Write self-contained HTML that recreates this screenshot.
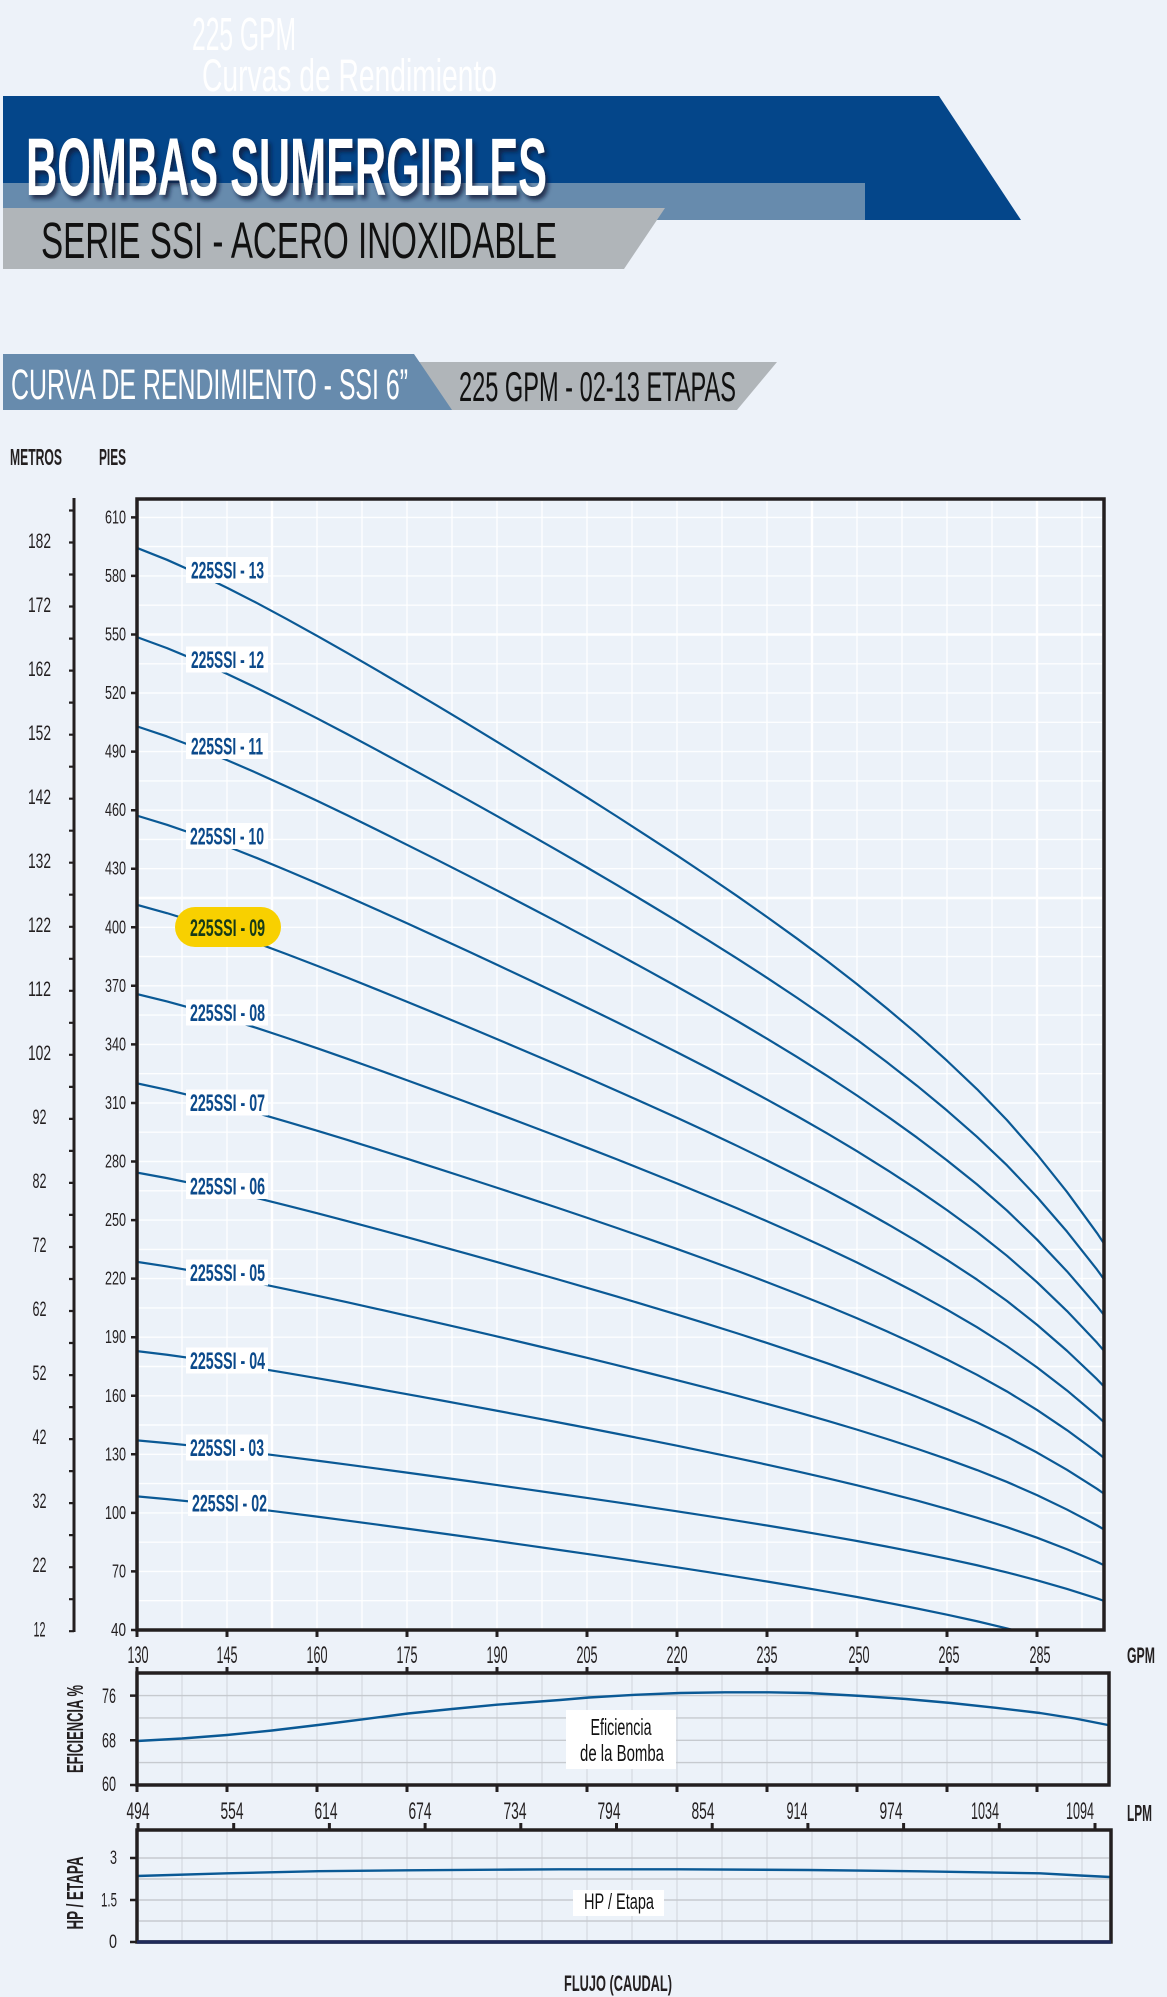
<!DOCTYPE html>
<html>
<head>
<meta charset="utf-8">
<style>
html,body{margin:0;padding:0;background:#edf2f9;}
svg{display:block;}
text{font-family:"Liberation Sans",sans-serif;}
</style>
</head>
<body>
<svg width="1167" height="1997" viewBox="0 0 1167 1997" xmlns="http://www.w3.org/2000/svg">
<defs>
<filter id="sh" x="-5%" y="-20%" width="110%" height="150%">
<feDropShadow dx="3" dy="4" stdDeviation="2" flood-color="#0d1f38" flood-opacity="0.8"/>
</filter>
<clipPath id="plot"><rect x="137" y="499" width="967" height="1131"/></clipPath>
</defs>
<rect x="0" y="0" width="1167" height="1997" fill="#edf2f9"/>

<!-- header -->
<text x="192" y="50" font-size="46" fill="#ffffff" textLength="104" lengthAdjust="spacingAndGlyphs">225 GPM</text>
<text x="202" y="91" font-size="45" fill="#ffffff" textLength="295" lengthAdjust="spacingAndGlyphs">Curvas de Rendimiento</text>

<polygon points="3,96 939,96 1021,220 3,220" fill="#04468a"/>
<rect x="3" y="183" width="862" height="37" fill="#678bad"/>
<polygon points="3,208 665,208 624,269 3,269" fill="#b0b5b9"/>
<text x="26" y="195" font-size="82" font-weight="bold" fill="#ffffff" textLength="521" lengthAdjust="spacingAndGlyphs" filter="url(#sh)">BOMBAS SUMERGIBLES</text>
<text x="41" y="258" font-size="51" fill="#111111" textLength="516" lengthAdjust="spacingAndGlyphs">SERIE SSI - ACERO INOXIDABLE</text>

<polygon points="405,362 777,362 737,410 405,410" fill="#b0b5b9"/>
<polygon points="3,354 414,354 452,410 3,410" fill="#678bad"/>
<text x="11" y="399" font-size="43" fill="#ffffff" textLength="397" lengthAdjust="spacingAndGlyphs">CURVA DE RENDIMIENTO - SSI 6”</text>
<text x="459" y="401" font-size="42" fill="#111111" textLength="277" lengthAdjust="spacingAndGlyphs">225 GPM - 02-13 ETAPAS</text>

<!-- axis titles -->
<text x="10" y="465" font-size="23" font-weight="bold" fill="#231f20" textLength="52" lengthAdjust="spacingAndGlyphs">METROS</text>
<text x="99" y="465" font-size="23" font-weight="bold" fill="#231f20" textLength="27" lengthAdjust="spacingAndGlyphs">PIES</text>

<!-- main plot background and grid -->
<rect x="137" y="499" width="967" height="1131" fill="#ecf2f9"/>
<path stroke="#ffffff" stroke-width="1.4" fill="none" opacity="0.9" d="M182,501V1629M227,501V1629M272,501V1629M317,501V1629M362,501V1629M407,501V1629M452,501V1629M497,501V1629M542,501V1629M587,501V1629M632,501V1629M677,501V1629M722,501V1629M767,501V1629M812,501V1629M857,501V1629M902,501V1629M947,501V1629M992,501V1629M1037,501V1629M1082,501V1629"/>
<path stroke="#ffffff" stroke-width="1.4" fill="none" opacity="0.9" d="M139,1600.7H1102M139,1571.4H1102M139,1542.2H1102M139,1512.9H1102M139,1483.6H1102M139,1454.3H1102M139,1425H1102M139,1395.8H1102M139,1366.5H1102M139,1337.2H1102M139,1307.9H1102M139,1278.6H1102M139,1249.4H1102M139,1220.1H1102M139,1190.8H1102M139,1161.5H1102M139,1132.2H1102M139,1103H1102M139,1073.7H1102M139,1044.4H1102M139,1015.1H1102M139,985.8H1102M139,956.6H1102M139,927.3H1102M139,898H1102M139,868.7H1102M139,839.4H1102M139,810.2H1102M139,780.9H1102M139,751.6H1102M139,722.3H1102M139,693H1102M139,663.8H1102M139,634.5H1102M139,605.2H1102M139,575.9H1102M139,546.6H1102M139,517.4H1102"/>
<path stroke="#ffffff" stroke-width="2.4" fill="none" d="M272,501V1629M812,501V1629M1037,501V1629M139,634.5H1102M139,898H1102"/>

<!-- curves -->
<g clip-path="url(#plot)" fill="none" stroke="#0a5995" stroke-width="2.2" stroke-linejoin="round">
<path vector-effect="non-scaling-stroke" transform="matrix(1 0 0 -25.376 0 1708.08)" d="M137,45.72L167,45.25L197,44.72L227,44.15L257,43.545L287,42.91L317,42.255L347,41.585L377,40.9L407,40.205L437,39.505L467,38.795L497,38.08L527,37.355L557,36.625L587,35.885L617,35.135L647,34.37L677,33.6L707,32.81L737,32.005L767,31.175L797,30.325L827,29.445L857,28.53L887,27.57L917,26.57L947,25.51L977,24.39L1007,23.17L1037,21.82L1067,20.34L1097,18.72L1110,17.95"/>
<path vector-effect="non-scaling-stroke" transform="matrix(1 0 0 -23.424 0 1708.08)" d="M137,45.72L167,45.25L197,44.72L227,44.15L257,43.545L287,42.91L317,42.255L347,41.585L377,40.9L407,40.205L437,39.505L467,38.795L497,38.08L527,37.355L557,36.625L587,35.885L617,35.135L647,34.37L677,33.6L707,32.81L737,32.005L767,31.175L797,30.325L827,29.445L857,28.53L887,27.57L917,26.57L947,25.51L977,24.39L1007,23.17L1037,21.82L1067,20.34L1097,18.72L1110,17.95"/>
<path vector-effect="non-scaling-stroke" transform="matrix(1 0 0 -21.472 0 1708.08)" d="M137,45.72L167,45.25L197,44.72L227,44.15L257,43.545L287,42.91L317,42.255L347,41.585L377,40.9L407,40.205L437,39.505L467,38.795L497,38.08L527,37.355L557,36.625L587,35.885L617,35.135L647,34.37L677,33.6L707,32.81L737,32.005L767,31.175L797,30.325L827,29.445L857,28.53L887,27.57L917,26.57L947,25.51L977,24.39L1007,23.17L1037,21.82L1067,20.34L1097,18.72L1110,17.95"/>
<path vector-effect="non-scaling-stroke" transform="matrix(1 0 0 -19.52 0 1708.08)" d="M137,45.72L167,45.25L197,44.72L227,44.15L257,43.545L287,42.91L317,42.255L347,41.585L377,40.9L407,40.205L437,39.505L467,38.795L497,38.08L527,37.355L557,36.625L587,35.885L617,35.135L647,34.37L677,33.6L707,32.81L737,32.005L767,31.175L797,30.325L827,29.445L857,28.53L887,27.57L917,26.57L947,25.51L977,24.39L1007,23.17L1037,21.82L1067,20.34L1097,18.72L1110,17.95"/>
<path vector-effect="non-scaling-stroke" transform="matrix(1 0 0 -17.568 0 1708.08)" d="M137,45.72L167,45.25L197,44.72L227,44.15L257,43.545L287,42.91L317,42.255L347,41.585L377,40.9L407,40.205L437,39.505L467,38.795L497,38.08L527,37.355L557,36.625L587,35.885L617,35.135L647,34.37L677,33.6L707,32.81L737,32.005L767,31.175L797,30.325L827,29.445L857,28.53L887,27.57L917,26.57L947,25.51L977,24.39L1007,23.17L1037,21.82L1067,20.34L1097,18.72L1110,17.95"/>
<path vector-effect="non-scaling-stroke" transform="matrix(1 0 0 -15.616 0 1708.08)" d="M137,45.72L167,45.25L197,44.72L227,44.15L257,43.545L287,42.91L317,42.255L347,41.585L377,40.9L407,40.205L437,39.505L467,38.795L497,38.08L527,37.355L557,36.625L587,35.885L617,35.135L647,34.37L677,33.6L707,32.81L737,32.005L767,31.175L797,30.325L827,29.445L857,28.53L887,27.57L917,26.57L947,25.51L977,24.39L1007,23.17L1037,21.82L1067,20.34L1097,18.72L1110,17.95"/>
<path vector-effect="non-scaling-stroke" transform="matrix(1 0 0 -13.664 0 1708.08)" d="M137,45.72L167,45.25L197,44.72L227,44.15L257,43.545L287,42.91L317,42.255L347,41.585L377,40.9L407,40.205L437,39.505L467,38.795L497,38.08L527,37.355L557,36.625L587,35.885L617,35.135L647,34.37L677,33.6L707,32.81L737,32.005L767,31.175L797,30.325L827,29.445L857,28.53L887,27.57L917,26.57L947,25.51L977,24.39L1007,23.17L1037,21.82L1067,20.34L1097,18.72L1110,17.95"/>
<path vector-effect="non-scaling-stroke" transform="matrix(1 0 0 -11.712 0 1708.08)" d="M137,45.72L167,45.25L197,44.72L227,44.15L257,43.545L287,42.91L317,42.255L347,41.585L377,40.9L407,40.205L437,39.505L467,38.795L497,38.08L527,37.355L557,36.625L587,35.885L617,35.135L647,34.37L677,33.6L707,32.81L737,32.005L767,31.175L797,30.325L827,29.445L857,28.53L887,27.57L917,26.57L947,25.51L977,24.39L1007,23.17L1037,21.82L1067,20.34L1097,18.72L1110,17.95"/>
<path vector-effect="non-scaling-stroke" transform="matrix(1 0 0 -9.76 0 1708.08)" d="M137,45.72L167,45.25L197,44.72L227,44.15L257,43.545L287,42.91L317,42.255L347,41.585L377,40.9L407,40.205L437,39.505L467,38.795L497,38.08L527,37.355L557,36.625L587,35.885L617,35.135L647,34.37L677,33.6L707,32.81L737,32.005L767,31.175L797,30.325L827,29.445L857,28.53L887,27.57L917,26.57L947,25.51L977,24.39L1007,23.17L1037,21.82L1067,20.34L1097,18.72L1110,17.95"/>
<path vector-effect="non-scaling-stroke" transform="matrix(1 0 0 -7.808 0 1708.08)" d="M137,45.72L167,45.25L197,44.72L227,44.15L257,43.545L287,42.91L317,42.255L347,41.585L377,40.9L407,40.205L437,39.505L467,38.795L497,38.08L527,37.355L557,36.625L587,35.885L617,35.135L647,34.37L677,33.6L707,32.81L737,32.005L767,31.175L797,30.325L827,29.445L857,28.53L887,27.57L917,26.57L947,25.51L977,24.39L1007,23.17L1037,21.82L1067,20.34L1097,18.72L1110,17.95"/>
<path vector-effect="non-scaling-stroke" transform="matrix(1 0 0 -5.856 0 1708.08)" d="M137,45.72L167,45.25L197,44.72L227,44.15L257,43.545L287,42.91L317,42.255L347,41.585L377,40.9L407,40.205L437,39.505L467,38.795L497,38.08L527,37.355L557,36.625L587,35.885L617,35.135L647,34.37L677,33.6L707,32.81L737,32.005L767,31.175L797,30.325L827,29.445L857,28.53L887,27.57L917,26.57L947,25.51L977,24.39L1007,23.17L1037,21.82L1067,20.34L1097,18.72L1110,17.95"/>
<path vector-effect="non-scaling-stroke" transform="matrix(1 0 0 -5.856 0 1764.08)" d="M137,45.72L167,45.25L197,44.72L227,44.15L257,43.545L287,42.91L317,42.255L347,41.585L377,40.9L407,40.205L437,39.505L467,38.795L497,38.08L527,37.355L557,36.625L587,35.885L617,35.135L647,34.37L677,33.6L707,32.81L737,32.005L767,31.175L797,30.325L827,29.445L857,28.53L887,27.57L917,26.57L947,25.51L977,24.39L1007,23.17L1037,21.82L1067,20.34L1097,18.72L1110,17.95"/>
</g>

<!-- curve labels -->
<g fill="#ffffff">
<rect x="186" y="557" width="82" height="26"/>
<rect x="186" y="646.5" width="82" height="26"/>
<rect x="186" y="733" width="82" height="26"/>
<rect x="186" y="823" width="82" height="26"/>
<rect x="186" y="999.5" width="82" height="26"/>
<rect x="186" y="1089.5" width="82" height="26"/>
<rect x="186" y="1173" width="82" height="26"/>
<rect x="186" y="1259.5" width="82" height="26"/>
<rect x="186" y="1347.5" width="82" height="26"/>
<rect x="186" y="1434.5" width="82" height="26"/>
<rect x="188" y="1490" width="80" height="26"/>
</g>
<rect x="175" y="907" width="106" height="40" rx="20" ry="20" fill="#f8d000"/>
<g font-size="24" font-weight="bold" fill="#0c4a8b">
<text x="191" y="578.5" textLength="73" lengthAdjust="spacingAndGlyphs">225SSI - 13</text>
<text x="191" y="668" textLength="73" lengthAdjust="spacingAndGlyphs">225SSI - 12</text>
<text x="191" y="754.5" textLength="72" lengthAdjust="spacingAndGlyphs">225SSI - 11</text>
<text x="190" y="844.5" textLength="74" lengthAdjust="spacingAndGlyphs">225SSI - 10</text>
<text x="190" y="936" textLength="75" lengthAdjust="spacingAndGlyphs" fill="#163a17">225SSI - 09</text>
<text x="190" y="1021" textLength="75" lengthAdjust="spacingAndGlyphs">225SSI - 08</text>
<text x="190" y="1111" textLength="75" lengthAdjust="spacingAndGlyphs">225SSI - 07</text>
<text x="190" y="1194.5" textLength="75" lengthAdjust="spacingAndGlyphs">225SSI - 06</text>
<text x="190" y="1281" textLength="75" lengthAdjust="spacingAndGlyphs">225SSI - 05</text>
<text x="190" y="1369" textLength="75" lengthAdjust="spacingAndGlyphs">225SSI - 04</text>
<text x="190" y="1456" textLength="74" lengthAdjust="spacingAndGlyphs">225SSI - 03</text>
<text x="192" y="1511.5" textLength="75" lengthAdjust="spacingAndGlyphs">225SSI - 02</text>
</g>

<!-- main frame -->
<path d="M137,499H1104V1630H137Z" fill="none" stroke="#231f20" stroke-width="3.5"/>

<!-- metros axis -->
<path d="M74,498V1632" stroke="#231f20" stroke-width="3"/>
<path stroke="#231f20" stroke-width="2.2" d="M69,1631.2H74M69,1599.2H74M69,1567.2H74M69,1535.1H74M69,1503.1H74M69,1471.1H74M69,1439.1H74M69,1407.1H74M69,1375.1H74M69,1343H74M69,1311H74M69,1279H74M69,1247H74M69,1214.9H74M69,1182.9H74M69,1150.9H74M69,1118.9H74M69,1086.9H74M69,1054.8H74M69,1022.8H74M69,990.8H74M69,958.8H74M69,926.8H74M69,894.7H74M69,862.7H74M69,830.7H74M69,798.7H74M69,766.7H74M69,734.7H74M69,702.6H74M69,670.6H74M69,638.6H74M69,606.5H74M69,574.5H74M69,542.5H74M69,510.5H74"/>
<g font-size="21" fill="#231f20" text-anchor="middle">
<text x="39.5" y="548" textLength="23" lengthAdjust="spacingAndGlyphs">182</text>
<text x="39.5" y="612" textLength="23" lengthAdjust="spacingAndGlyphs">172</text>
<text x="39.5" y="676" textLength="23" lengthAdjust="spacingAndGlyphs">162</text>
<text x="39.5" y="740" textLength="23" lengthAdjust="spacingAndGlyphs">152</text>
<text x="39.5" y="804" textLength="23" lengthAdjust="spacingAndGlyphs">142</text>
<text x="39.5" y="868" textLength="23" lengthAdjust="spacingAndGlyphs">132</text>
<text x="39.5" y="932" textLength="23" lengthAdjust="spacingAndGlyphs">122</text>
<text x="39.5" y="996" textLength="23" lengthAdjust="spacingAndGlyphs">112</text>
<text x="39.5" y="1060" textLength="23" lengthAdjust="spacingAndGlyphs">102</text>
<text x="39.5" y="1124" textLength="14" lengthAdjust="spacingAndGlyphs">92</text>
<text x="39.5" y="1188" textLength="14" lengthAdjust="spacingAndGlyphs">82</text>
<text x="39.5" y="1252" textLength="14" lengthAdjust="spacingAndGlyphs">72</text>
<text x="39.5" y="1316" textLength="14" lengthAdjust="spacingAndGlyphs">62</text>
<text x="39.5" y="1380" textLength="14" lengthAdjust="spacingAndGlyphs">52</text>
<text x="39.5" y="1444" textLength="14" lengthAdjust="spacingAndGlyphs">42</text>
<text x="39.5" y="1508" textLength="14" lengthAdjust="spacingAndGlyphs">32</text>
<text x="39.5" y="1572" textLength="14" lengthAdjust="spacingAndGlyphs">22</text>
<text x="39.5" y="1636.5" textLength="12" lengthAdjust="spacingAndGlyphs">12</text>
</g>

<!-- pies axis -->
<path stroke="#231f20" stroke-width="2.5" d="M131,517.4H137M131,575.9H137M131,634.5H137M131,693H137M131,751.6H137M131,810.2H137M131,868.7H137M131,927.3H137M131,985.8H137M131,1044.4H137M131,1103H137M131,1161.5H137M131,1220.1H137M131,1278.6H137M131,1337.2H137M131,1395.8H137M131,1454.3H137M131,1512.9H137M131,1571.4H137M131,1630H137"/>
<g font-size="18" fill="#231f20" text-anchor="end">
<text x="126" y="523.4" textLength="21" lengthAdjust="spacingAndGlyphs">610</text>
<text x="126" y="581.9" textLength="21" lengthAdjust="spacingAndGlyphs">580</text>
<text x="126" y="640.5" textLength="21" lengthAdjust="spacingAndGlyphs">550</text>
<text x="126" y="699" textLength="21" lengthAdjust="spacingAndGlyphs">520</text>
<text x="126" y="757.6" textLength="21" lengthAdjust="spacingAndGlyphs">490</text>
<text x="126" y="816.2" textLength="21" lengthAdjust="spacingAndGlyphs">460</text>
<text x="126" y="874.7" textLength="21" lengthAdjust="spacingAndGlyphs">430</text>
<text x="126" y="933.3" textLength="21" lengthAdjust="spacingAndGlyphs">400</text>
<text x="126" y="991.8" textLength="21" lengthAdjust="spacingAndGlyphs">370</text>
<text x="126" y="1050.4" textLength="21" lengthAdjust="spacingAndGlyphs">340</text>
<text x="126" y="1109" textLength="21" lengthAdjust="spacingAndGlyphs">310</text>
<text x="126" y="1167.5" textLength="21" lengthAdjust="spacingAndGlyphs">280</text>
<text x="126" y="1226.1" textLength="21" lengthAdjust="spacingAndGlyphs">250</text>
<text x="126" y="1284.6" textLength="21" lengthAdjust="spacingAndGlyphs">220</text>
<text x="126" y="1343.2" textLength="21" lengthAdjust="spacingAndGlyphs">190</text>
<text x="126" y="1401.8" textLength="21" lengthAdjust="spacingAndGlyphs">160</text>
<text x="126" y="1460.3" textLength="21" lengthAdjust="spacingAndGlyphs">130</text>
<text x="126" y="1518.9" textLength="21" lengthAdjust="spacingAndGlyphs">100</text>
<text x="126" y="1577.4" textLength="14" lengthAdjust="spacingAndGlyphs">70</text>
<text x="126" y="1636" textLength="15" lengthAdjust="spacingAndGlyphs">40</text>
</g>

<!-- main x axis ticks and labels -->
<path stroke="#231f20" stroke-width="3" d="M137,1630V1637M227,1630V1637M317,1630V1637M407,1630V1637M497,1630V1637M587,1630V1637M677,1630V1637M767,1630V1637M857,1630V1637M947,1630V1637M1037,1630V1637"/>
<g font-size="24" fill="#231f20" text-anchor="middle">
<text x="138" y="1663" textLength="21" lengthAdjust="spacingAndGlyphs">130</text>
<text x="227" y="1663" textLength="21" lengthAdjust="spacingAndGlyphs">145</text>
<text x="317" y="1663" textLength="21" lengthAdjust="spacingAndGlyphs">160</text>
<text x="407" y="1663" textLength="21" lengthAdjust="spacingAndGlyphs">175</text>
<text x="497" y="1663" textLength="21" lengthAdjust="spacingAndGlyphs">190</text>
<text x="587" y="1663" textLength="21" lengthAdjust="spacingAndGlyphs">205</text>
<text x="677" y="1663" textLength="21" lengthAdjust="spacingAndGlyphs">220</text>
<text x="767" y="1663" textLength="21" lengthAdjust="spacingAndGlyphs">235</text>
<text x="859" y="1663" textLength="21" lengthAdjust="spacingAndGlyphs">250</text>
<text x="949" y="1663" textLength="21" lengthAdjust="spacingAndGlyphs">265</text>
<text x="1040" y="1663" textLength="21" lengthAdjust="spacingAndGlyphs">285</text>
</g>
<text x="1127" y="1663" font-size="22" font-weight="bold" fill="#231f20" textLength="28" lengthAdjust="spacingAndGlyphs">GPM</text>

<!-- efficiency chart -->
<rect x="137" y="1673" width="972" height="112" fill="#ecf2f9"/>
<path stroke="#d6dbe1" stroke-width="1.3" fill="none" d="M182,1675V1783M227,1675V1783M272,1675V1783M317,1675V1783M362,1675V1783M407,1675V1783M452,1675V1783M497,1675V1783M542,1675V1783M587,1675V1783M632,1675V1783M677,1675V1783M722,1675V1783M767,1675V1783M812,1675V1783M857,1675V1783M902,1675V1783M947,1675V1783M992,1675V1783M1037,1675V1783M1082,1675V1783"/>
<path stroke="#c6cacf" stroke-width="1.4" fill="none" d="M139,1695.6H1107M139,1717.9H1107M139,1740.3H1107M139,1762.6H1107"/>
<path fill="none" stroke="#0a5995" stroke-width="2.4" stroke-linejoin="round" d="M137,1741L182,1738.5L227,1735L272,1730.5L318,1725L363,1719.3L408,1713.5L452,1709L497,1704.7L560,1700L589,1697.5L635,1694.8L680,1693L725,1692.3L769,1692.3L808,1693L862,1696L906,1699L951,1703L996,1707.8L1040,1713L1075,1718.5L1108,1725"/>
<rect x="566" y="1710" width="110" height="59" fill="#ffffff"/>
<text x="621" y="1735" font-size="23" fill="#111111" text-anchor="middle" textLength="61" lengthAdjust="spacingAndGlyphs">Eficiencia</text>
<text x="622" y="1761" font-size="23" fill="#111111" text-anchor="middle" textLength="84" lengthAdjust="spacingAndGlyphs">de la Bomba</text>
<path d="M137,1673H1109V1785H137Z" fill="none" stroke="#231f20" stroke-width="3.5"/>
<path stroke="#231f20" stroke-width="3" d="M137,1667V1673M227,1667V1673M317,1667V1673M407,1667V1673M497,1667V1673M587,1667V1673M677,1667V1673M767,1667V1673M857,1667V1673M947,1667V1673M1037,1667V1673M137,1785V1792M227,1785V1792M317,1785V1792M407,1785V1792M497,1785V1792M587,1785V1792M677,1785V1792M767,1785V1792M857,1785V1792M947,1785V1792M1037,1785V1792"/>
<path stroke="#231f20" stroke-width="2.5" d="M130,1695.6H137M130,1740.3H137M130,1785H137"/>
<g font-size="21" fill="#231f20" text-anchor="end">
<text x="116" y="1703" textLength="14" lengthAdjust="spacingAndGlyphs">76</text>
<text x="116" y="1747.5" textLength="14" lengthAdjust="spacingAndGlyphs">68</text>
<text x="116" y="1791" textLength="14" lengthAdjust="spacingAndGlyphs">60</text>
</g>
<text transform="translate(83,1729) rotate(-90)" x="0" y="0" font-size="23" font-weight="bold" fill="#231f20" text-anchor="middle" textLength="88" lengthAdjust="spacingAndGlyphs">EFICIENCIA %</text>

<!-- LPM labels -->
<g font-size="24" fill="#231f20" text-anchor="middle">
<text x="138" y="1819" textLength="23" lengthAdjust="spacingAndGlyphs">494</text>
<text x="232" y="1819" textLength="23" lengthAdjust="spacingAndGlyphs">554</text>
<text x="326" y="1819" textLength="23" lengthAdjust="spacingAndGlyphs">614</text>
<text x="420" y="1819" textLength="23" lengthAdjust="spacingAndGlyphs">674</text>
<text x="515" y="1819" textLength="23" lengthAdjust="spacingAndGlyphs">734</text>
<text x="609" y="1819" textLength="23" lengthAdjust="spacingAndGlyphs">794</text>
<text x="703" y="1819" textLength="23" lengthAdjust="spacingAndGlyphs">854</text>
<text x="797" y="1819" textLength="21" lengthAdjust="spacingAndGlyphs">914</text>
<text x="891" y="1819" textLength="23" lengthAdjust="spacingAndGlyphs">974</text>
<text x="985" y="1819" textLength="28" lengthAdjust="spacingAndGlyphs">1034</text>
<text x="1080" y="1819" textLength="28" lengthAdjust="spacingAndGlyphs">1094</text>
</g>
<text x="1127" y="1821" font-size="23" font-weight="bold" fill="#231f20" textLength="25" lengthAdjust="spacingAndGlyphs">LPM</text>

<!-- HP chart -->
<rect x="137" y="1830" width="974" height="112" fill="#ecf2f9"/>
<path stroke="#d6dbe1" stroke-width="1.3" fill="none" d="M182,1832V1940M227,1832V1940M272,1832V1940M317,1832V1940M362,1832V1940M407,1832V1940M452,1832V1940M497,1832V1940M542,1832V1940M587,1832V1940M632,1832V1940M677,1832V1940M722,1832V1940M767,1832V1940M812,1832V1940M857,1832V1940M902,1832V1940M947,1832V1940M992,1832V1940M1037,1832V1940M1082,1832V1940"/>
<path stroke="#c6cacf" stroke-width="1.4" fill="none" d="M139,1858H1109M139,1879H1109M139,1900H1109M139,1921H1109"/>
<path fill="none" stroke="#0a5995" stroke-width="2.4" stroke-linejoin="round" d="M137,1876L227,1873.3L318,1871.2L407,1870.3L497,1869.7L560,1869.3L680,1869.3L808,1870L920,1871.3L1040,1873.3L1080,1875.5L1110,1877"/>
<rect x="573" y="1890" width="91" height="26" fill="#ffffff"/>
<text x="619" y="1909" font-size="22" fill="#111111" text-anchor="middle" textLength="70" lengthAdjust="spacingAndGlyphs">HP / Etapa</text>
<path d="M137,1830H1111V1942H137Z" fill="none" stroke="#231f20" stroke-width="3.5"/>
<path d="M137,1942H1111" stroke="#1f2a5a" stroke-width="3.5"/>
<path stroke="#231f20" stroke-width="3" d="M138,1823V1830M233.7,1823V1830M329.4,1823V1830M425.1,1823V1830M520.8,1823V1830M616.5,1823V1830M712.2,1823V1830M807.9,1823V1830M903.6,1823V1830M999.3,1823V1830M1095,1823V1830"/>
<path stroke="#231f20" stroke-width="2.5" d="M130,1858H137M130,1900H137M130,1942H137"/>
<g font-size="19" fill="#231f20" text-anchor="end">
<text x="117" y="1864" textLength="7" lengthAdjust="spacingAndGlyphs">3</text>
<text x="117" y="1906.5" textLength="16" lengthAdjust="spacingAndGlyphs">1.5</text>
<text x="117" y="1948" textLength="8" lengthAdjust="spacingAndGlyphs">0</text>
</g>
<text transform="translate(83,1893) rotate(-90)" x="0" y="0" font-size="23" font-weight="bold" fill="#231f20" text-anchor="middle" textLength="73" lengthAdjust="spacingAndGlyphs">HP / ETAPA</text>

<text x="564" y="1991" font-size="22" font-weight="bold" fill="#231f20" textLength="108" lengthAdjust="spacingAndGlyphs">FLUJO (CAUDAL)</text>
</svg>
</body>
</html>
